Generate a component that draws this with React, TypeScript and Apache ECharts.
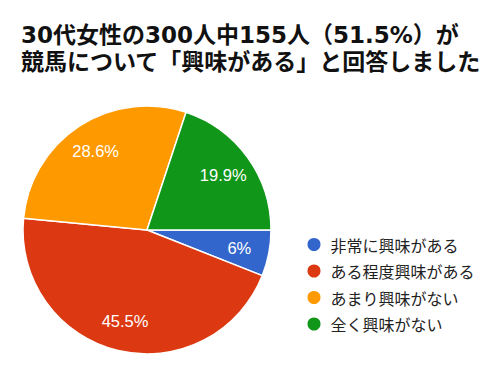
import React, { useEffect, useRef } from "react";
import * as echarts from "echarts";

const titleLines = [
  "30代女性の300人中155人（51.5%）が",
  "競馬について「興味がある」と回答しました",
];
const categories = ["非常に興味がある", "ある程度興味がある", "あまり興味がない", "全く興味がない"];
const values = [6, 45.5, 28.6, 19.9];
const colors = ["#3366cc", "#dc3912", "#ff9900", "#109618"];

export default function App() {
  const ref = useRef<HTMLDivElement>(null);
  useEffect(() => {
    if (!ref.current) return;
    const chart = echarts.init(ref.current, undefined, { renderer: "svg" });
    const data = categories.map((name, i) => ({
      name,
      value: values[i],
      itemStyle: { color: colors[i] },
    }));
    chart.setOption({
      animation: false,
      backgroundColor: "#ffffff",
      title: {
        text: titleLines.join("\n"),
        left: 21,
        top: 21,
        padding: 0,
        textStyle: {
          fontFamily: "DejaVu Sans, Noto Sans CJK JP, sans-serif",
          fontWeight: "bold",
          fontSize: 23,
          lineHeight: 27,
          color: "#111111",
        },
      },
      legend: {
        orient: "vertical",
        left: 305.5,
        top: 236,
        padding: 0,
        icon: "circle",
        itemWidth: 15,
        itemHeight: 15,
        itemGap: 9.5,
        data: categories.map((name, i) => ({ name, itemStyle: { color: colors[i] } })),
        textStyle: {
          fontFamily: "Noto Sans CJK JP, sans-serif",
          fontSize: 16,
          lineHeight: 16,
          color: "#222222",
          padding: [0, 0, 0, 4],
        },
      },
      series: [
        {
          type: "pie",
          center: [147, 230],
          radius: [0, 124],
          startAngle: 0,
          clockwise: true,
          data,
          label: { show: false },
          labelLine: { show: false },
          itemStyle: { borderColor: "#ffffff", borderWidth: 1.5 },
          emphasis: { disabled: true },
        },
        {
          type: "pie",
          center: [147, 230],
          radius: [58, 124],
          startAngle: 0,
          clockwise: true,
          silent: true,
          data: categories.map((name, i) => ({ name, value: values[i] })),
          itemStyle: { color: "rgba(0,0,0,0)", borderWidth: 0 },
          label: {
            show: true,
            position: "inside",
            formatter: "{c}%",
            color: "#ffffff",
            fontSize: 16.5,
            fontFamily: "Liberation Sans, Arial, sans-serif",
          },
          labelLine: { show: false },
          emphasis: { disabled: true },
        },
      ],
    });
    return () => chart.dispose();
  }, []);
  return <div ref={ref} style={{ width: 500, height: 375, position: "absolute", left: 0, top: 0 }} />;
}
